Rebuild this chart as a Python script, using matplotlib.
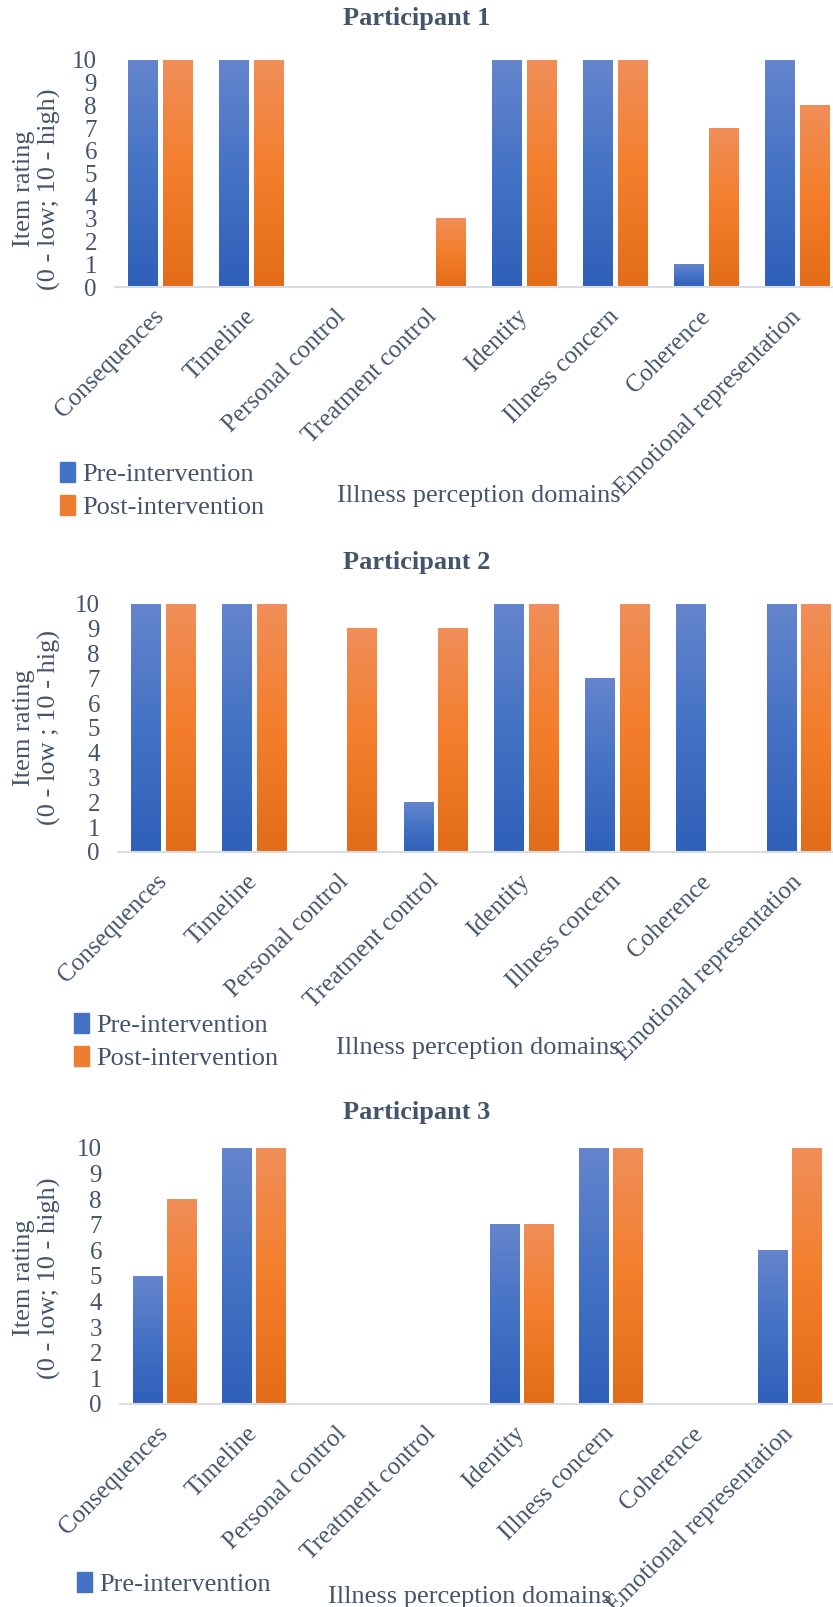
import numpy as np
import matplotlib
matplotlib.use('Agg')
import matplotlib.pyplot as plt
from matplotlib.colors import LinearSegmentedColormap
from matplotlib.patches import Patch

plt.rcParams['font.family'] = ['Liberation Serif', 'DejaVu Serif']

domains = ['Consequences', 'Timeline', 'Personal control', 'Treatment control',
           'Identity', 'Illness concern', 'Coherence', 'Emotional representation']
series = ['Pre-intervention', 'Post-intervention']

p1_pre = [10, 10, 0, 0, 10, 10, 1, 10]
p1_post = [10, 10, 0, 3, 10, 10, 7, 8]
p2_pre = [10, 10, 0, 2, 10, 7, 10, 10]
p2_post = [10, 10, 9, 9, 10, 10, 0, 10]
p3_pre = [5, 10, 0, 0, 7, 10, 0, 6]
p3_post = [8, 10, 0, 0, 7, 10, 0, 10]

titles = ['Participant 1', 'Participant 2', 'Participant 3']
ylabels = ['Item rating\n(0 - low; 10 - high)',
           'Item rating\n(0 - low ; 10 - hig)',
           'Item rating\n(0 - low; 10 - high)']
xlabel = 'Illness perception domains'
yticks = list(range(0, 11))
# the bottom chart's legend is cut by the page: only the first entry shows
legend_entries = [2, 2, 1]

TXT = '#44546A'
blue_cmap = LinearSegmentedColormap.from_list('b', ['#2F60B9', '#4472C4', '#6585CD'])
orange_cmap = LinearSegmentedColormap.from_list('o', ['#E36C18', '#F47E2B', '#F08E59'])

W, H = 833, 1607
fig = plt.figure(figsize=(W / 100, H / 100), dpi=100)

def fx(x):
    return x / W

def fy(y):
    return 1 - y / H

# pixel layout per panel: axes box, title y, ylabel centre, xlabel centre, legend corner
layout = [
    dict(box=(115, 60, 843, 287), title=18, ylab=(37, 189), xlab=(479, 496), leg=(60, 462)),
    dict(box=(118, 604, 844, 852), title=563, ylab=(37, 728), xlab=(478, 1048), leg=(74, 1013)),
    dict(box=(120, 1148, 834, 1404), title=1112, ylab=(37, 1278), xlab=(470, 1597), leg=(77, 1572)),
]
data = [(p1_pre, p1_post), (p2_pre, p2_post), (p3_pre, p3_post)]

grad = np.linspace(0, 1, 256).reshape(-1, 1)
x = np.arange(len(domains))
bw = 0.325
off = 0.19

for k, (pre, post) in enumerate(data):
    L = layout[k]
    l, t, r, b = L['box']
    ax = fig.add_axes([fx(l), fy(b), fx(r) - fx(l), fy(t) - fy(b)])
    bars_pre = ax.bar(x - off, pre, bw, color='#4472C4', zorder=1)
    bars_post = ax.bar(x + off, post, bw, color='#ED7D31', zorder=1)
    for bars, cmap in [(bars_pre, blue_cmap), (bars_post, orange_cmap)]:
        for p in bars:
            h = p.get_height()
            if h <= 0:
                continue
            ax.imshow(grad, extent=[p.get_x(), p.get_x() + p.get_width(), 0, h],
                      origin='lower', aspect='auto', cmap=cmap, zorder=2)
    ax.set_xlim(-0.5, len(domains) - 0.5)
    ax.set_ylim(0, 10)
    ax.set_yticks(yticks)
    ax.set_xticks(x)
    ax.set_xticklabels(domains, rotation=45, ha='right', va='center',
                       rotation_mode='anchor')
    ax.tick_params(axis='both', length=0, labelsize=18, labelcolor=TXT)
    ax.tick_params(axis='x', pad=19)
    ax.tick_params(axis='y', pad=13)
    for s in ['top', 'right', 'left']:
        ax.spines[s].set_visible(False)
    ax.spines['bottom'].set_color('#D9DCE3')
    ax.spines['bottom'].set_linewidth(1.5)

    fig.text(0.5, fy(L['title']), titles[k], ha='center', va='center',
             fontsize=19, fontweight='bold', color=TXT)
    fig.text(fx(L['ylab'][0]), fy(L['ylab'][1]), ylabels[k], rotation=90,
             ha='center', va='center', fontsize=19, color=TXT, linespacing=1.2,
             multialignment='center')
    fig.text(fx(L['xlab'][0]), fy(L['xlab'][1]), xlabel, ha='center', va='center',
             fontsize=19, color=TXT)
    n = legend_entries[k]
    handles = [Patch(color='#4472C4'), Patch(color='#ED7D31')][:n]
    fig.legend(handles, series[:n], loc='upper left',
               bbox_to_anchor=(fx(L['leg'][0]), fy(L['leg'][1])),
               frameon=False, fontsize=19, labelcolor=TXT, borderpad=0,
               borderaxespad=0, handlelength=0.55, handleheight=0.8,
               handletextpad=0.3, labelspacing=0.33)

fig.savefig('out.png', dpi=100)
